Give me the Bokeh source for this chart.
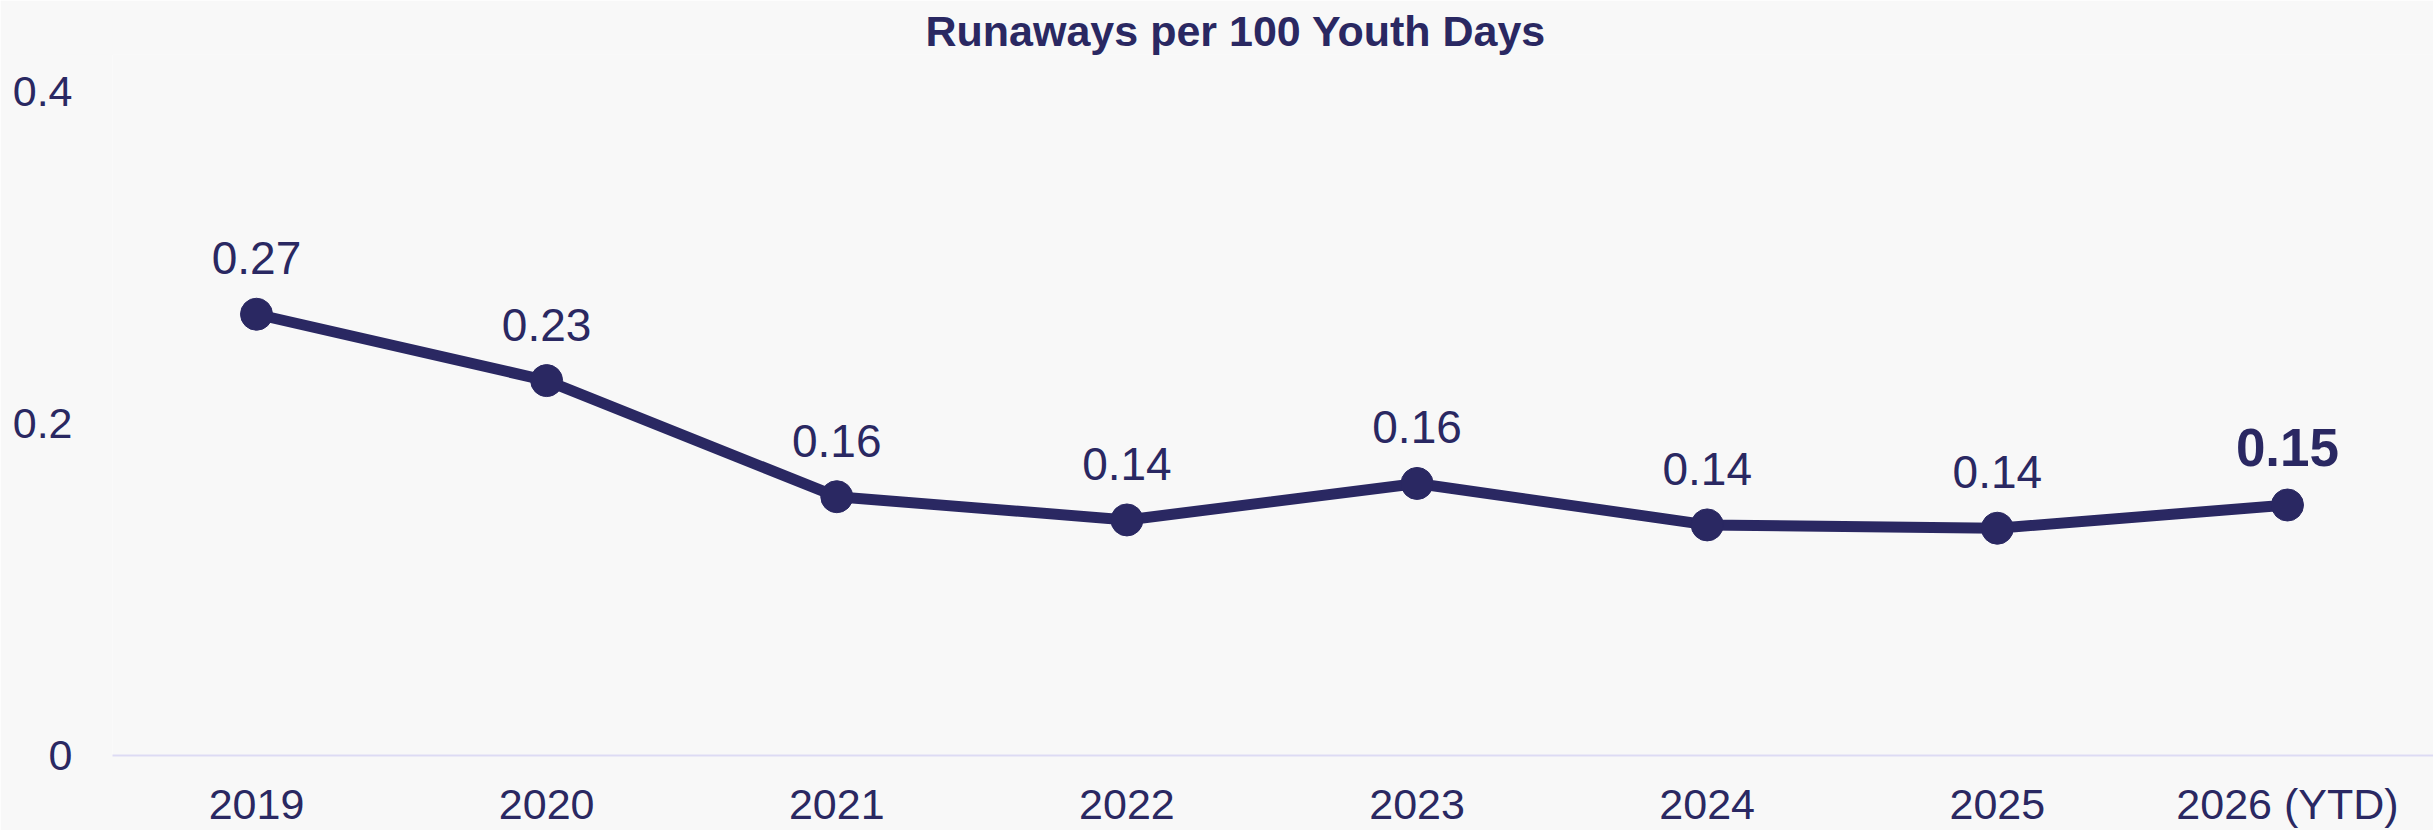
from bokeh.plotting import figure
from bokeh.models import Range1d, FixedTicker, ColumnDataSource
from bokeh.core.properties import value
from bokeh.embed import file_html
from bokeh.resources import INLINE

categories = ["2019", "2020", "2021", "2022", "2023", "2024", "2025", "2026 (YTD)"]
rates = [0.266, 0.226, 0.156, 0.142, 0.164, 0.139, 0.137, 0.151]
y_ticks = [0, 0.2, 0.4]
y_tick_labels = ["0", "0.2", "0.4"]
title_text = "Runaways per 100 Youth Days"

NAVY = "#2a2862"
LAVENDER = "#dddbf4"
BG = "#f8f8f8"
FONT = "Liberation Sans"

W, H = 2433, 830
TOP, BOTTOM = 54, 74
frame_bottom = H - BOTTOM
k = (frame_bottom - 91.5) / 0.4
y_end = (frame_bottom - TOP) / k

xs = list(range(len(categories)))
labels = ["%.2f" % v for v in rates]

p = figure(width=W, height=H, output_backend="svg", toolbar_location=None,
           x_range=Range1d(-0.4963, 7.5033), y_range=Range1d(0, y_end),
           min_border_left=112, min_border_right=0, min_border_top=TOP,
           min_border_bottom=BOTTOM, background_fill_color=BG,
           border_fill_color=BG, outline_line_color=None)

p.title.text = title_text
p.title.text_font = FONT
p.title.text_font_size = "43px"
p.title.text_font_style = "bold"
p.title.text_color = NAVY
p.title.align = "left"
p.title.offset = 813
p.title.standoff = 0

p.xgrid.visible = False
p.ygrid.visible = False

p.xaxis.ticker = FixedTicker(ticks=xs)
p.xaxis.major_label_overrides = {i: c for i, c in zip(xs, categories)}
p.xaxis.axis_line_color = LAVENDER
p.xaxis.axis_line_width = 2
p.xaxis.major_tick_line_color = None
p.xaxis.minor_tick_line_color = None
p.xaxis.major_tick_out = 0
p.xaxis.major_tick_in = 0
p.xaxis.major_label_text_font = FONT
p.xaxis.major_label_text_font_size = "43px"
p.xaxis.major_label_text_color = NAVY
p.xaxis.major_label_standoff = 24

p.yaxis.ticker = FixedTicker(ticks=y_ticks)
p.yaxis.major_label_overrides = {t: l for t, l in zip(y_ticks, y_tick_labels)}
p.yaxis.axis_line_color = None
p.yaxis.major_tick_line_color = None
p.yaxis.minor_tick_line_color = None
p.yaxis.major_tick_out = 0
p.yaxis.major_tick_in = 0
p.yaxis.major_label_text_font = FONT
p.yaxis.major_label_text_font_size = "43px"
p.yaxis.major_label_text_color = NAVY
p.yaxis.major_label_standoff = 40

src = ColumnDataSource(dict(x=xs, y=rates, label=labels))
p.line("x", "y", source=src, line_color=NAVY, line_width=11)
p.scatter("x", "y", source=src, size=32, fill_color=NAVY, line_color=NAVY)

n = len(categories) - 1
src_reg = ColumnDataSource(dict(x=xs[:n], y=rates[:n], label=labels[:n]))
src_last = ColumnDataSource(dict(x=xs[n:], y=rates[n:], label=labels[n:]))
p.text("x", "y", text="label", source=src_reg, text_align="center",
       text_baseline="middle", y_offset=-56, text_color=NAVY,
       text_font=value(FONT), text_font_size="46px")
p.text("x", "y", text="label", source=src_last, text_align="center",
       text_baseline="middle", y_offset=-58, text_color=NAVY,
       text_font=value(FONT), text_font_size="53px", text_font_style="bold")

open("out.html", "w").write(file_html(p, INLINE))
